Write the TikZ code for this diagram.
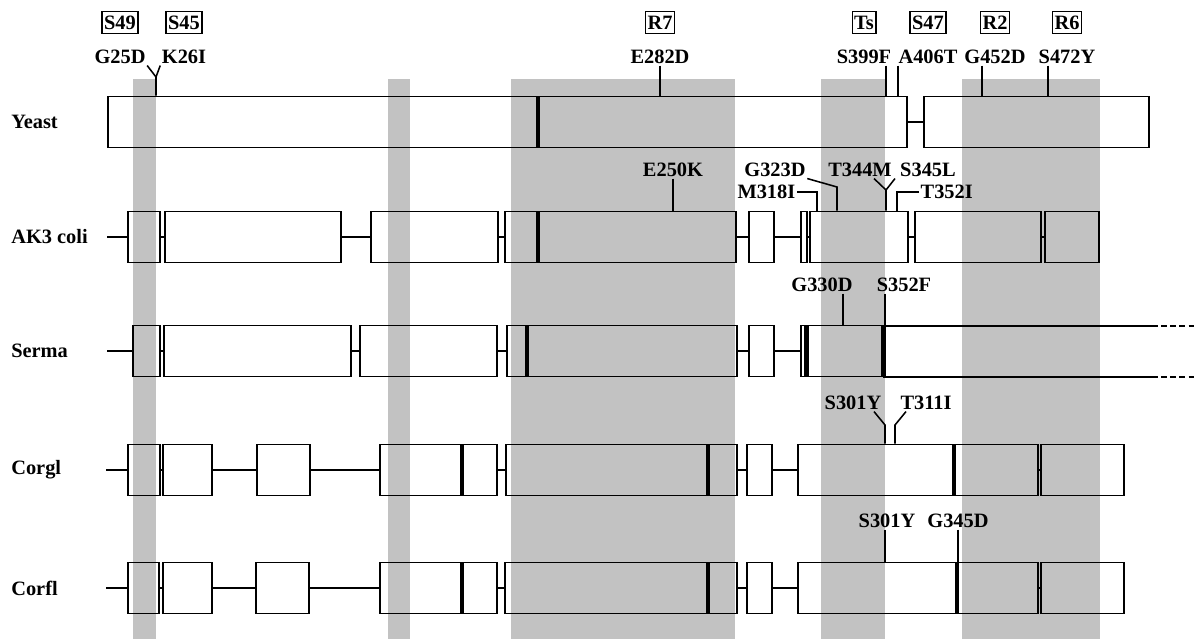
\documentclass[tikz,border=0pt]{standalone}
\usepackage{fontspec}
\setmainfont{Liberation Serif}
\usetikzlibrary{positioning}

\begin{document}
\begin{tikzpicture}[x=0.025cm, y=-0.025cm,
    font=\bfseries\fontsize{14.5}{16}\selectfont,
    band/.style={fill=black!24},
    seg/.style={draw, line width=1.3pt, anchor=west, inner sep=0pt,
      minimum height=1.275cm, minimum width=#1*0.025cm},
    thickbar/.style={line width=2.6pt},
    link/.style={line width=1.3pt},
    mline/.style={line width=1.1pt},
    mut/.style={inner sep=1pt},
    tag/.style={draw, line width=0.8pt, inner xsep=1.5pt, inner ysep=2.8pt,
      text height=9.8pt, text depth=0pt},
    species/.style={anchor=west, inner sep=0pt}]
  \useasboundingbox (0,0) rectangle (1197,639);

  % shaded regions
  \fill[band] (133,79) rectangle (156,639);
  \fill[band] (388,79) rectangle (410,639);
  \fill[band] (511,79) rectangle (735,639);
  \fill[band] (821,79) rectangle (885,639);
  \fill[band] (962,79) rectangle (1100,639);

  % species
  \node[species] (lyeast) at (11,122) {Yeast};
  \node[species] (lak3)   at (11,237) {AK3 coli};
  \node[species] (lserma) at (11,351) {Serma};
  \node[species] (lcorgl) at (11,470) {Corgl};
  \node[species] (lcorfl) at (11,588) {Corfl};

  % Yeast
  \node[seg=799] (y1) at (107,122) {};
  \node[seg=225] (y2) at (923,122) {};
  \path[link] (y1) edge (y2);
  \draw[thickbar] (538,97) -- (538,147);

  % AK3 coli
  \coordinate (a0) at (107,237);
  \node[seg=32]  (a1) at (127,237) {};
  \node[seg=176] (a2) at (164,237) {};
  \node[seg=127] (a3) at (370,237) {};
  \node[seg=231] (a4) at (504,237) {};
  \node[seg=25]  (a5) at (748,237) {};
  \node[seg=6]   (a6) at (800,237) {};
  \node[seg=98]  (a7) at (809,237) {};
  \node[seg=126] (a8) at (914,237) {};
  \node[seg=54]  (a9) at (1044,237) {};
  \path[link] (a0) edge (a1) (a1) edge (a2) (a2) edge (a3) (a3) edge (a4)
              (a4) edge (a5) (a5) edge (a6) (a6) edge (a7) (a7) edge (a8)
              (a8) edge (a9);
  \draw[thickbar] (538,212) -- (538,263);

  % Serma
  \coordinate (s0) at (107,351);
  \node[seg=27]  (s1) at (132,351) {};
  \node[seg=187] (s2) at (163,351) {};
  \node[seg=137] (s3) at (359,351) {};
  \node[seg=230] (s4) at (506,351) {};
  \node[seg=25]  (s5) at (748,351) {};
  \node[seg=4]   (s6) at (800,351) {};
  \node[seg=75]  (s7) at (806,351) {};
  \path[link] (s0) edge (s1) (s1) edge (s2) (s2) edge (s3) (s3) edge (s4)
              (s4) edge (s5) (s5) edge (s6);
  \draw[link] (1152,326) -- (884,326) -- (884,377) -- (1152,377);
  \draw[link, dash pattern=on 4pt off 2.5pt] (1152,326) -- (1197,326)
    (1152,377) -- (1197,377);
  \draw[thickbar] (527,326) -- (527,377);
  \draw[thickbar] (807,326) -- (807,377);
  \draw[thickbar] (884,326) -- (884,377);

  % Corgl
  \coordinate (c0) at (106,470);
  \node[seg=32]  (c1) at (127,470) {};
  \node[seg=49]  (c2) at (162,470) {};
  \node[seg=53]  (c3) at (256,470) {};
  \node[seg=117] (c4) at (379,470) {};
  \node[seg=231] (c5) at (505,470) {};
  \node[seg=25]  (c6) at (746,470) {};
  \node[seg=240] (c7) at (797,470) {};
  \node[seg=83]  (c8) at (1040,470) {};
  \path[link] (c0) edge (c1) (c1) edge (c2) (c2) edge (c3) (c3) edge (c4)
              (c4) edge (c5) (c5) edge (c6) (c6) edge (c7) (c7) edge (c8);
  \draw[thickbar] (462,444) -- (462,496);
  \draw[thickbar] (708,444) -- (708,496);
  \draw[thickbar] (954,444) -- (954,496);

  % Corfl
  \coordinate (f0) at (106,588);
  \node[seg=31]  (f1) at (127,588) {};
  \node[seg=49]  (f2) at (162,588) {};
  \node[seg=53]  (f3) at (255,588) {};
  \node[seg=117] (f4) at (379,588) {};
  \node[seg=232] (f5) at (504,588) {};
  \node[seg=25]  (f6) at (746,588) {};
  \node[seg=240] (f7) at (797,588) {};
  \node[seg=83]  (f8) at (1040,588) {};
  \path[link] (f0) edge (f1) (f1) edge (f2) (f2) edge (f3) (f3) edge (f4)
              (f4) edge (f5) (f5) edge (f6) (f6) edge (f7) (f7) edge (f8);
  \draw[thickbar] (462,562) -- (462,614);
  \draw[thickbar] (708,562) -- (708,614);
  \draw[thickbar] (957,562) -- (957,614);

  % Yeast mutations
  \node[mut] (g25d)  at (120,57)  {G25D};
  \node[mut] (k26i)  at (184,57)  {K26I};
  \node[mut] (e282d) at (660,57)  {E282D};
  \node[mut] (s399f) at (864,57)  {S399F};
  \node[mut] (a406t) at (928,57)  {A406T};
  \node[mut] (g452d) at (995,57)  {G452D};
  \node[mut] (s472y) at (1067,57) {S472Y};
  \node[tag, above=0.36cm of g25d]  (t49) {S49};
  \node[tag, above=0.36cm of k26i]  (t45) {S45};
  \node[tag, above=0.36cm of e282d] (tr7) {R7};
  \node[tag, above=0.36cm of s399f] (tts) {Ts};
  \node[tag, above=0.36cm of a406t] (t47) {S47};
  \node[tag, above=0.36cm of g452d] (tr2) {R2};
  \node[tag, above=0.36cm of s472y] (tr6) {R6};
  \coordinate (fk1) at (156,77);
  \draw[mline] (g25d.south east) -- (fk1) -- (fk1 |- y1.north);
  \draw[mline] (k26i.south west) -- (fk1);
  \draw[mline] (e282d.south) -- (e282d.south |- y1.north);
  \draw[mline] (886,0 |- s399f.south) -- (886,0 |- y1.north);
  \draw[mline] (898,0 |- a406t.south) -- (898,0 |- y1.north);
  \draw[mline] (982,0 |- g452d.south) -- (982,0 |- y2.north);
  \draw[mline] (1048,0 |- s472y.south) -- (1048,0 |- y2.north);

  % AK3 coli mutations
  \node[mut] (e250k) at (673,170) {E250K};
  \node[mut] (g323d) at (775,170) {G323D};
  \node[mut, anchor=east] (m318i) at (797,192) {M318I};
  \node[mut] (t344m) at (860,170) {T344M};
  \node[mut] (s345l) at (928,170) {S345L};
  \node[mut, anchor=west] (t352i) at (919,192) {T352I};
  \draw[mline] (e250k.south) -- (e250k.south |- a4.north);
  \draw[mline] (g323d.south east) -- (837,187) -- (837,0 |- a7.north);
  \draw[mline] (m318i.east) -- (817,0 |- m318i.east) -- (817,0 |- a7.north);
  \coordinate (fk2) at (886,190);
  \draw[mline] (874,0 |- t344m.south) -- (fk2) -- (fk2 |- a7.north);
  \draw[mline] (895,0 |- s345l.south) -- (fk2);
  \draw[mline] (t352i.west) -- (897,0 |- t352i.west) -- (897,0 |- a7.north);

  % Serma mutations
  \node[mut] (g330d) at (822,285) {G330D};
  \node[mut] (s352f) at (904,285) {S352F};
  \draw[mline] (843,0 |- g330d.south) -- (843,0 |- s7.north);
  \draw[mline] (885,0 |- s352f.south) -- (885,0 |- s7.north);

  % Corgl mutations
  \node[mut] (s301y) at (853,403) {S301Y};
  \node[mut] (t311i) at (926,403) {T311I};
  \draw[mline] (874,0 |- s301y.south) -- (885,425) -- (885,0 |- c7.north);
  \draw[mline] (906,0 |- t311i.south) -- (895,425) -- (895,0 |- c7.north);

  % Corfl mutations
  \node[mut] (s301yb) at (887,521) {S301Y};
  \node[mut] (g345d)  at (958,521) {G345D};
  \draw[mline] (885,0 |- s301yb.south) -- (885,0 |- f7.north);
  \draw[mline] (g345d.south) -- (g345d.south |- f7.north);
\end{tikzpicture}
\end{document}
